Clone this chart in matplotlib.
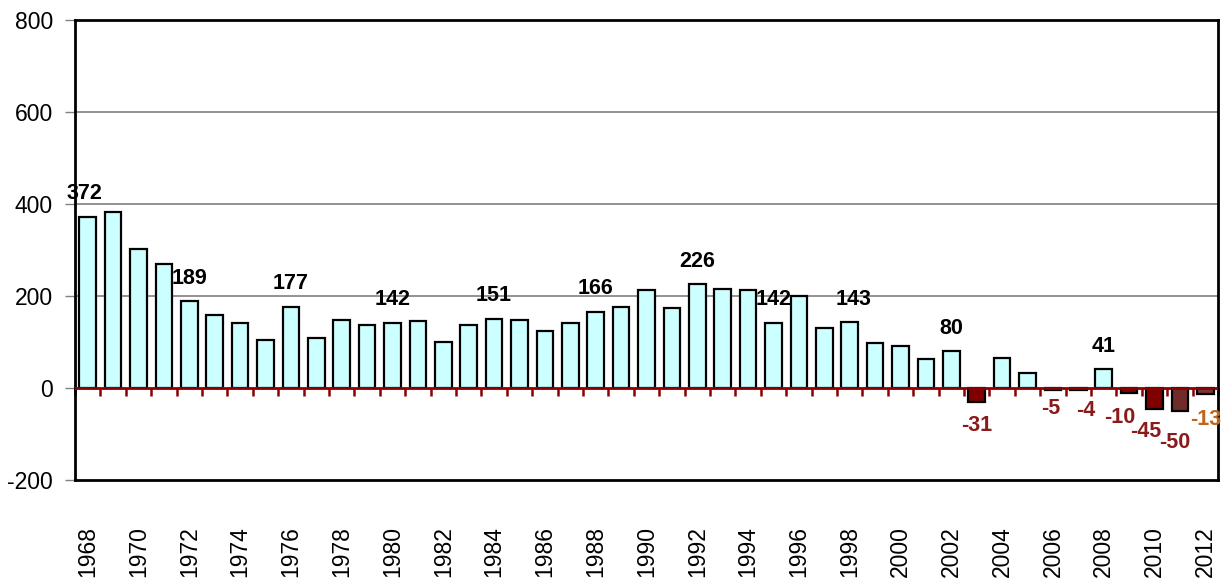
import matplotlib
matplotlib.use("Agg")
import matplotlib.pyplot as plt
import numpy as np

plt.rcParams['font.family'] = ['Liberation Sans', 'DejaVu Sans']
plt.rcParams['axes.unicode_minus'] = False

years = list(range(1968, 2013))
values = [372, 383, 302, 269, 189, 159, 142, 104, 177, 109,
          148, 138, 142, 145, 101, 137, 151, 147, 125, 142,
          166, 177, 214, 175, 226, 215, 212, 142, 201, 130,
          143, 98, 92, 62, 80, -31, 66, 33, -5, -4,
          41, -10, -45, -50, -13]
neg_colors = {2003: '#800000', 2006: '#800000', 2007: '#800000', 2009: '#800000',
              2010: '#800000', 2011: '#722B2B', 2012: '#7A3535'}
pos_color = '#CCFFFF'
labeled_years = [1968, 1972, 1976, 1980, 1984, 1988, 1992, 1995, 1998, 2002,
                 2003, 2006, 2007, 2008, 2009, 2010, 2011, 2012]
label_colors = {2012: '#C0651A'}
# pixel nudges for labels (dx, dy)
label_nudge = {1968: (-3, 0), 1998: (4, 0), 2006: (-2, 5), 2007: (7, 2),
               2009: (-9, -2), 2010: (-9, 0), 2011: (-5, -8), 2012: (0, -3)}

fig = plt.figure(figsize=(12.21, 5.79), dpi=100)
ax = fig.add_axes([75/1221, 1-480/579, (1218-75)/1221, 460/579])

x = np.arange(len(years))
colors = [pos_color if v >= 0 else neg_colors.get(y, '#800000') for y, v in zip(years, values)]
ax.bar(x, values, width=0.66, color=colors, edgecolor='black', linewidth=1.6, zorder=3)

ax.set_xlim(-0.5, len(years) - 0.5)
ax.set_ylim(-200, 800)
ax.set_yticks([-200, 0, 200, 400, 600, 800])
ax.tick_params(axis='y', length=7, width=1, color='#808080', labelsize=16.5, pad=9)
for yv in [200, 400, 600]:
    ax.axhline(yv, color='#808080', linewidth=1.2, zorder=1)

ax.set_xticks(x[::2])
ax.set_xticklabels([str(y) for y in years[::2]], rotation=90, fontsize=16.5)
ax.tick_params(axis='x', length=0, pad=33)

for s in ax.spines.values():
    s.set_linewidth(2)
    s.set_color('black')

# zero line with category boundary ticks
ax.axhline(0, color='#8B0000', linewidth=2, zorder=4)
sec = ax.secondary_xaxis(0.2)
sec.set_xticks(np.arange(len(years) + 1) - 0.5)
sec.tick_params(axis='x', direction='out', length=6, width=1.8, color='#8B0000', labelbottom=False)
sec.spines['bottom'].set_visible(False)

for yr in labeled_years:
    i = years.index(yr)
    v = values[i]
    dx, dy = label_nudge.get(yr, (0, 0))
    if v >= 0:
        off = (dx * 0.72, (23 + dy) * 0.72)
        col = 'black'
    else:
        off = (dx * 0.72, (-23 + dy) * 0.72)
        col = label_colors.get(yr, '#8B1A1A')
    ax.annotate(str(v), (i, v), xytext=off, textcoords='offset points',
                ha='center', va='center', fontsize=15.5, fontweight='bold',
                color=col, zorder=5, annotation_clip=False)

fig.savefig('out.png', dpi=100)
